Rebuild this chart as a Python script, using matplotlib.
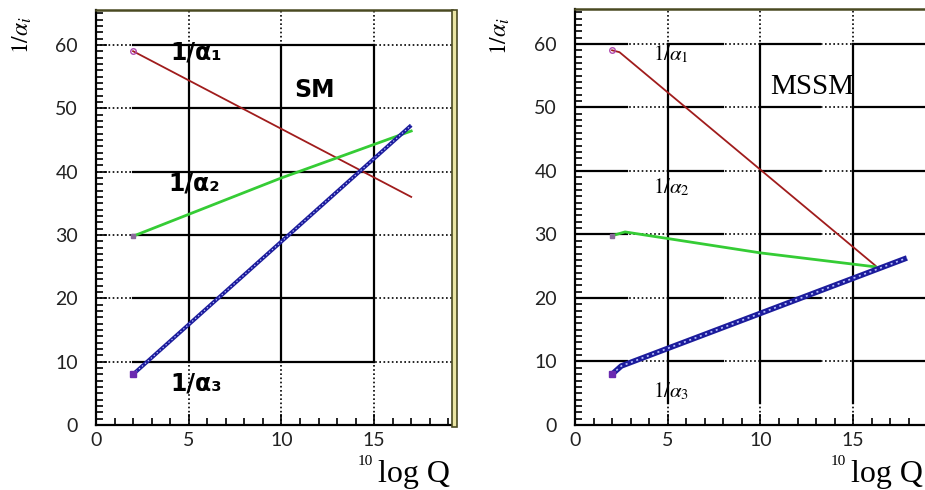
import matplotlib
matplotlib.use("Agg")
import matplotlib.pyplot as plt
from matplotlib.ticker import MultipleLocator
from matplotlib.patches import Rectangle

plt.rcParams['mathtext.fontset'] = 'stix'

# SM running couplings
sm_x1 = [2, 17]
sm_a1 = [59.0, 36.0]
sm_x2 = [2, 10, 17]
sm_a2 = [29.8, 39.0, 46.4]
sm_x3 = [2, 17]
sm_a3 = [8.0, 47.3]

# MSSM running couplings
mssm_x1 = [2, 2.4, 16.2]
mssm_a1 = [59.0, 58.7, 25.1]
mssm_x2 = [2, 2.7, 10, 16.2]
mssm_a2 = [29.8, 30.4, 27.1, 24.9]
mssm_x3 = [2, 2.5, 17.9]
mssm_a3 = [8.0, 9.3, 26.3]

xticks = [0, 5, 10, 15]
xticklabels = ['0', '5', '10', '15']
yticks = [0, 10, 20, 30, 40, 50, 60]
yticklabels = ['0', '10', '20', '30', '40', '50', '60']

XMAX, YMAX = 19.2, 65.5
W, H = 925, 490

fig = plt.figure(figsize=(W / 100, H / 100), dpi=100)


def px_box(left, right, top, bottom):
    return [left / W, 1 - bottom / H, (right - left) / W, (bottom - top) / H]


def grid(ax, h_solid, v_solid):
    for y in yticks[1:]:
        ax.plot([0, XMAX], [y, y], color='k', lw=1.2, ls=(0, (1, 1.5)), zorder=1)
        for a, b in h_solid:
            ax.plot([a, b], [y, y], color='k', lw=1.6, zorder=1)
    for x in xticks[1:]:
        ax.plot([x, x], [0, YMAX], color='k', lw=1.2, ls=(0, (1, 1.5)), zorder=1)
        for a, b in v_solid:
            ax.plot([x, x], [a, b], color='k', lw=1.6, zorder=1)


def setup(ax):
    ax.set_xlim(0, XMAX)
    ax.set_ylim(0, YMAX)
    ax.set_xticks(xticks)
    ax.set_xticklabels(xticklabels)
    ax.set_yticks(yticks)
    ax.set_yticklabels(yticklabels)
    ax.xaxis.set_minor_locator(MultipleLocator(1))
    ax.yaxis.set_minor_locator(MultipleLocator(1))
    ax.tick_params(which='both', direction='in', top=False, right=False, width=1.2)
    ax.tick_params(which='major', length=8)
    ax.tick_params(which='minor', length=5)
    ax.tick_params(axis='y', pad=13)
    ax.tick_params(axis='x', pad=5)
    for lab in ax.get_xticklabels() + ax.get_yticklabels():
        lab.set_family('Lato')
        lab.set_fontsize(14)
        lab.set_color('#222222')
    ax.spines['left'].set_linewidth(1.6)
    ax.spines['bottom'].set_linewidth(1.6)
    ax.spines['right'].set_visible(False)
    ax.spines['top'].set_color('#4a4a22')
    ax.spines['top'].set_linewidth(1.8)


def couplings(ax, x1, a1, x2, a2, x3, a3, blue_lw):
    ax.plot(x1, a1, color='#a01c1c', lw=1.3, zorder=3)
    ax.plot(x2, a2, color='#35cc35', lw=2.0, zorder=3)
    ax.plot(x3, a3, color='#1c1c9c', lw=blue_lw, zorder=3, solid_capstyle='butt')
    ax.plot(x3, a3, color='#b8c0ff', lw=blue_lw * 0.3, ls=(0, (1.2, 2.2)), zorder=4)
    ax.plot(x1[:1], a1[:1], 'o', ms=4, mfc='none', mec='#b04ab0', zorder=5)
    ax.plot(x2[:1], a2[:1], 's', ms=3.5, color='#8a6a9a', zorder=5)
    ax.plot(x3[:1], a3[:1], 's', ms=4, color='#6a2ab0', zorder=5)


def frame(left, right, top, bottom, label_right):
    fig.patches.append(Rectangle((right / W, 1 - (bottom + 2) / H), 5 / W, (bottom - top + 2) / H,
                                 transform=fig.transFigure, facecolor='#ebe6a4',
                                 edgecolor='#4a4a22', lw=1.2, zorder=5))
    fig.text(label_right / W, 1 - 482 / H, 'log Q', family='Liberation Serif', fontsize=23,
             ha='right', va='baseline')
    fig.text((label_right - 92) / W, 1 - 455 / H, '10', family='Liberation Serif', fontsize=11,
             ha='left', va='top')


# ---- SM ----
L1, R1 = 96, 452
ax1 = fig.add_axes(px_box(L1, R1, 10, 425))
setup(ax1)
grid(ax1, [(2, 15)], [(10, 60)])
couplings(ax1, sm_x1, sm_a1, sm_x2, sm_a2, sm_x3, sm_a3, 2.8)
bold = dict(family='DejaVu Sans', fontweight='bold', fontsize=17, va='center', ha='left', zorder=6)
ax1.text(4.0, 58.8, '1/α₁', **bold)
ax1.text(3.9, 38.1, '1/α₂', **bold)
ax1.text(4.0, 6.5, '1/α₃', **bold)
ax1.text(11.8, 52.8, 'SM', family='DejaVu Sans', fontweight='bold', fontsize=17,
         ha='center', va='center', zorder=6)
fig.text(22 / W, 1 - 35 / H, r'$1/\alpha_i$', fontsize=17, rotation=90, ha='center', va='center')
frame(L1, R1, 10, 425, 450)

# ---- MSSM ----
L2, R2 = 575, 931
ax2 = fig.add_axes(px_box(L2, R2, 9, 425))
setup(ax2)
grid(ax2, [(0, 2.8), (5, 8), (10, 13.2), (15, XMAX)], [(3.5, 60)])
couplings(ax2, mssm_x1, mssm_a1, mssm_x2, mssm_a2, mssm_x3, mssm_a3, 4.0)
serif = dict(fontsize=15, va='center', ha='left', zorder=6)
ax2.text(4.2, 58.4, r'$1/\alpha_1$', **serif)
ax2.text(4.2, 37.5, r'$1/\alpha_2$', **serif)
ax2.text(4.2, 5.3, r'$1/\alpha_3$', **serif)
ax2.text(12.8, 53.2, 'MSSM', family='Liberation Serif', fontsize=21,
         ha='center', va='center', zorder=6)
fig.text(500 / W, 1 - 36 / H, r'$1/\alpha_i$', fontsize=17, rotation=90, ha='center', va='center')
frame(L2, R2, 9, 425, 923)

fig.savefig('out.png', dpi=100)
